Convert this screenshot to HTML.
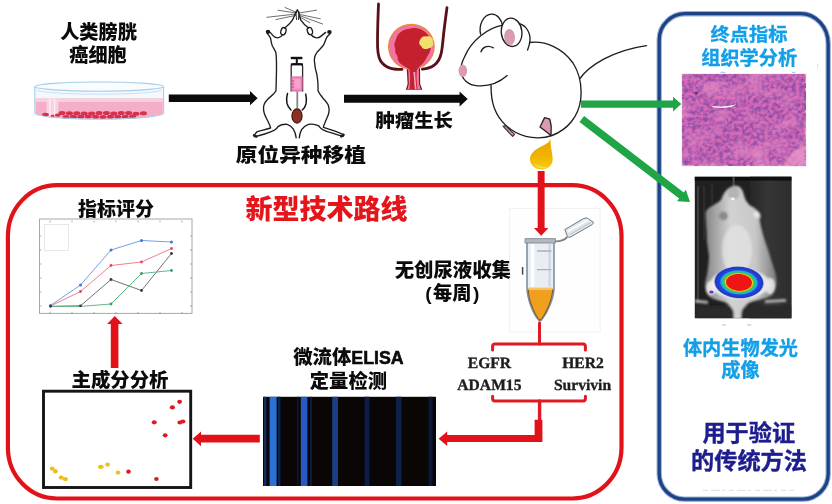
<!DOCTYPE html>
<html lang="zh-CN">
<head>
<meta charset="utf-8">
<title>膀胱癌原位异种移植模型技术路线</title>
<style>
  html, body { margin: 0; padding: 0; background: #ffffff; }
  body { width: 832px; height: 504px; overflow: hidden; position: relative; }
  svg { position: absolute; left: 0; top: 0; display: block; }
  text { font-family: "Liberation Sans", "Noto Sans CJK SC", sans-serif; font-weight: 900; }
  .k { fill: #0a0a0a; }
  .cy { fill: #129ee8; font-weight: 700; stroke: #129ee8; stroke-width: 0.35px; }
  .nv { fill: #1c1c8e; font-weight: 700; stroke: #1c1c8e; stroke-width: 0.4px; }
  .rd { fill: #e5141b; }
  .tm { font-family: "Liberation Serif", serif; font-weight: 700; fill: #1c1c1c; stroke: #1c1c1c; stroke-width: 0.35px; text-rendering: geometricPrecision; }
</style>
</head>
<body>
<svg width="832" height="504" viewBox="0 0 832 504">
  <defs>
    <filter id="soft" x="-5%" y="-5%" width="110%" height="110%"><feGaussianBlur stdDeviation="0.45"/></filter>
    <filter id="histo" x="0" y="0" width="100%" height="100%" color-interpolation-filters="sRGB">
      <feTurbulence type="fractalNoise" baseFrequency="0.26 0.28" numOctaves="2" seed="11" result="n"/>
      <feColorMatrix in="n" type="matrix" values="0 0 0 0 0  0 0 0 0 0  0 0 0 0 0  3.0 0 0 0 -1.08" result="a"/>
      <feFlood flood-color="#9050a8" result="c"/>
      <feComposite in="c" in2="a" operator="in" result="dark"/>
      <feTurbulence type="fractalNoise" baseFrequency="0.035 0.05" numOctaves="2" seed="5" result="n2"/>
      <feColorMatrix in="n2" type="matrix" values="0 0 0 0 0  0 0 0 0 0  0 0 0 0 0  0 2.2 0 0 -1.0" result="a2"/>
      <feFlood flood-color="#e88cc6" result="c2"/>
      <feComposite in="c2" in2="a2" operator="in" result="light"/>
      <feMerge><feMergeNode in="SourceGraphic"/><feMergeNode in="dark"/><feMergeNode in="light"/></feMerge>
    </filter>
    <radialGradient id="hot" cx="0.5" cy="0.5" r="0.5">
      <stop offset="0" stop-color="#f01414"/>
      <stop offset="0.50" stop-color="#f01414"/>
      <stop offset="0.545" stop-color="#f2c81e"/>
      <stop offset="0.60" stop-color="#3cc83c"/>
      <stop offset="0.66" stop-color="#28c0a0"/>
      <stop offset="0.72" stop-color="#20a8e0"/>
      <stop offset="0.78" stop-color="#2048d8"/>
      <stop offset="0.95" stop-color="#2038c8"/>
      <stop offset="1" stop-color="#2038c8" stop-opacity="0.4"/>
    </radialGradient>
    <linearGradient id="mousegrey" x1="0" y1="0" x2="1" y2="0">
      <stop offset="0" stop-color="#858585"/><stop offset="0.35" stop-color="#d2d2d2"/><stop offset="0.7" stop-color="#c8c8c8"/><stop offset="1" stop-color="#7a7a7a"/>
    </linearGradient>
    <linearGradient id="dropg" x1="0" y1="0" x2="0" y2="1"><stop offset="0" stop-color="#e9a400"/><stop offset="0.6" stop-color="#f0b400"/><stop offset="1" stop-color="#f7cf1c"/></linearGradient>
    <filter id="b1" x="-10%" y="-10%" width="120%" height="120%"><feGaussianBlur stdDeviation="1.2"/></filter>
    <filter id="b2" x="-10%" y="-10%" width="120%" height="120%"><feGaussianBlur stdDeviation="0.7"/></filter>
    <clipPath id="bliclip"><rect x="694.8" y="176.8" width="96.6" height="141.4"/></clipPath>
    <linearGradient id="bgR" x1="0" y1="0" x2="1" y2="0"><stop offset="0" stop-color="#262626"/><stop offset="0.4" stop-color="#363636"/><stop offset="1" stop-color="#2c2c2c"/></linearGradient>
    <clipPath id="elclip"><rect x="263" y="396.8" width="173" height="89.2"/></clipPath>

  </defs>
  <rect x="0" y="0" width="832" height="504" fill="#ffffff"/>

  <!-- ============ FRAMES ============ -->
  <g id="frames" fill="none">
    <rect x="7.9" y="185.2" width="613.6" height="313.3" rx="49" ry="51" stroke="#e2121a" stroke-width="4.2"/>
    <path d="M685.2 13.7 H800.6 A27.6 30 0 0 1 828.2 43.7 V473.8 A25.4 25.4 0 0 1 802.8 499.2 H684.6 A25.4 25.4 0 0 1 659.2 473.8 V39.7 A26 26 0 0 1 685.2 13.7 Z" stroke="#8ea4cc" stroke-width="5.4" opacity="0.85"/>
    <path d="M685.2 13.7 H800.6 A27.6 30 0 0 1 828.2 43.7 V473.8 A25.4 25.4 0 0 1 802.8 499.2 H684.6 A25.4 25.4 0 0 1 659.2 473.8 V39.7 A26 26 0 0 1 685.2 13.7 Z" stroke="#1b4386" stroke-width="3.3"/>
    <path d="M703 490.3 H794" stroke="#ccd5e6" stroke-width="0.8" stroke-dasharray="5 3 9 2 3 4"/>
  </g>


  <!-- ============ PETRI DISH ============ -->
  <g id="dish">
    <path d="M34.8 86.6 V113 A64.4 6.2 0 0 0 163.6 113 V86.6 Z" fill="#f4f8fc"/>
    <path d="M35.6 98.4 H162.8 V113 A63.6 6 0 0 1 35.6 113 Z" fill="#f4aec8"/>
    <path d="M35.6 98.4 H162.8 V102 H35.6 Z" fill="#f8cfde"/>
    <path d="M46.6 98.4 H58.4 V117.4 L46.6 115.6 Z" fill="#fad5e2" opacity="0.9"/>
    <path d="M50 98.4 V116 M54.6 98.4 V117" stroke="#fdeef4" stroke-width="1.2" fill="none"/>
    <g fill="#d6304c"><ellipse cx="62.0" cy="113.1" rx="3.5" ry="2.0"/><ellipse cx="69.4" cy="113.3" rx="3.5" ry="2.0"/><ellipse cx="76.8" cy="113.2" rx="3.5" ry="2.0"/><ellipse cx="84.2" cy="113.4" rx="3.5" ry="2.0"/><ellipse cx="91.6" cy="113.4" rx="3.5" ry="2.0"/><ellipse cx="99.0" cy="113.0" rx="3.5" ry="2.0"/><ellipse cx="106.4" cy="112.9" rx="3.5" ry="2.0"/><ellipse cx="113.8" cy="113.6" rx="3.5" ry="2.0"/><ellipse cx="121.2" cy="113.1" rx="3.5" ry="2.0"/><ellipse cx="128.6" cy="113.1" rx="3.5" ry="2.0"/><ellipse cx="136.0" cy="113.7" rx="3.5" ry="2.0"/><ellipse cx="143.4" cy="113.3" rx="3.5" ry="2.0"/><ellipse cx="66.0" cy="116.9" rx="3.5" ry="2.0"/><ellipse cx="73.4" cy="116.7" rx="3.5" ry="2.0"/><ellipse cx="80.8" cy="116.8" rx="3.5" ry="2.0"/><ellipse cx="88.2" cy="116.5" rx="3.5" ry="2.0"/><ellipse cx="95.6" cy="116.8" rx="3.5" ry="2.0"/><ellipse cx="103.0" cy="116.9" rx="3.5" ry="2.0"/><ellipse cx="110.4" cy="116.7" rx="3.5" ry="2.0"/><ellipse cx="117.8" cy="116.8" rx="3.5" ry="2.0"/><ellipse cx="125.2" cy="116.8" rx="3.5" ry="2.0"/><ellipse cx="132.6" cy="116.4" rx="3.5" ry="2.0"/><ellipse cx="45.5" cy="114.6" rx="3.4" ry="1.9"/><ellipse cx="52.6" cy="116.0" rx="2" ry="1.2"/><ellipse cx="57.6" cy="115.2" rx="2.8" ry="1.6"/></g>
    <g fill="none" stroke="#a6cde8" stroke-width="1.1">
      <ellipse cx="99.2" cy="86.6" rx="64.4" ry="4.6" fill="#f9fcfe"/>
      <path d="M34.8 86.6 V113 A64.4 6.2 0 0 0 163.6 113 V86.6"/>
      <path d="M36.4 89.6 A62.8 4.6 0 0 0 162 89.6" stroke="#c4dff2" stroke-width="0.9"/>
    </g>
  </g>

  <!-- ============ SUPINE MOUSE WITH SYRINGE ============ -->
  <g id="supine" fill="none" stroke="#1e1e1e" stroke-width="1.35" stroke-linecap="round" stroke-linejoin="round">
    <g stroke="#5e5e5e" stroke-width="0.9">
      <path d="M296 14 L266.8 17.3"/><path d="M296 13 L278 10.2"/><path d="M295.6 15.4 L275.9 19.6"/><path d="M296.4 12.4 L285 7.5"/>
      <path d="M299 13 L316.6 10.2"/><path d="M299.4 14.4 L320.3 18.8"/><path d="M299.6 15.6 L322.6 24"/><path d="M299 16.6 L309.8 22.6"/>
    </g>
    <!-- snout / head -->
    <path d="M297.4 10 C295.6 12.4 294.4 16.6 292.4 20.2 C290 24 286.8 26.2 284.6 28"/>
    <path d="M297.4 10 C299.2 12.4 299.4 16.6 300.8 20.2 C303.4 24 306.4 26.4 308.6 28"/>
    <path d="M295.8 12 L296.6 19.6 M299 12 L298.4 19.6" stroke-width="0.9"/>
    <ellipse cx="283.4" cy="31.2" rx="2.5" ry="3.7" transform="rotate(18 283.4 31.2)"/>
    <ellipse cx="309.9" cy="31" rx="2.5" ry="3.7" transform="rotate(-18 309.9 31)"/>
    <!-- inner arm lines -->
    <path d="M282.4 35.2 C280.4 37.8 276.6 38.8 274 36.6 L270.4 32.6"/>
    <path d="M311.4 35 C313.6 37.8 317.6 38.8 320.4 36.6 L325.6 32.4"/>
    <!-- left outline -->
    <path d="M267.2 33.4 C268.6 35 270 36.6 270.6 38.4 C271.2 41.4 271.4 43.6 272.4 46 C273.8 48.6 275.4 50.6 275.9 52.8 C276.6 58 276.6 66 276.4 75 C276.2 81 276.2 87 275.9 91 C274.6 93.4 272.6 95 270.6 96.6 C267.4 99.2 264.6 102 263.8 105.6 C263.2 108.6 263.6 111.4 264.4 113.8 C265.4 116.8 267 119.6 268.4 122.2 C269.4 124.2 270.2 126 270.6 128 C266 129.6 261 130.6 257 131.8 L254 135.2"/>
    <!-- right outline -->
    <path d="M330.4 33.6 C328.8 35 327.2 36.4 326.4 38 C325.4 40.8 324.6 43 323.4 45.2 C321.4 48.2 318.2 50.4 316.6 52.8 C314.8 55.2 314.2 57.6 314.3 60 C314.6 65 315.4 70 317 75 C318 81 318.2 87 318.1 91 C319.6 94 321.6 96.6 323.4 98.8 C325.8 101.2 327.8 103.4 328.6 106.2 C329.4 108.8 329.4 111.4 328.6 113.8 C327.6 117 326 120 324.9 122.8 C324.2 124.4 323.6 125.8 323.4 127.4 C328 129 332.6 130.4 336.9 131.8 L343.6 134.6"/>
    <!-- under-legs and tail stub -->
    <path d="M254.4 136.6 C258 136 261.6 135 264.6 134 C268.4 132.8 271.6 131.6 274.4 130.2 C276 129.2 277.2 128 278 126.6 C281 124.6 284.4 124 287.2 124.4 C290 125.4 292 127 293.2 128.8 C295 131.6 295.8 134.6 296.2 137.8"/>
    <path d="M343.2 136.4 C339.6 135.6 335.6 134.4 332.4 133.2 C328.6 132.2 325.4 131 322.6 129.6 C321 128.6 319.6 127.2 318.8 125.8 C315.6 124.2 311.6 123.8 308.4 124.4 C305.4 125.6 303 127.4 301.6 129.6 C300.2 132 299.6 134.8 299.2 137.8"/>
    <ellipse cx="268" cy="31.8" rx="2.3" ry="2.1" fill="#1a1a1a" stroke="none"/>
    <ellipse cx="329.4" cy="32" rx="2.3" ry="2.1" fill="#1a1a1a" stroke="none"/>
    <path d="M254 135.4 L256.4 136.6" stroke-width="2.4"/><path d="M343.6 134.8 L341.2 136.4" stroke-width="2.4"/>
    <!-- syringe -->
    <path d="M290.8 58 H302.4" stroke="#111" stroke-width="2.4" stroke-linecap="butt"/>
    <path d="M296.8 58 V63.4" stroke="#111" stroke-width="2" stroke-linecap="butt"/>
    <path d="M291.2 91 V66.4 Q291.2 63.6 294 63.6 H299.6 Q302.6 63.6 302.6 66.4 V91" fill="#fff" stroke="#2a2a2a" stroke-width="1.3"/>
    <path d="M290.8 64.4 H303" stroke="#111" stroke-width="2" stroke-linecap="butt"/>
    <path d="M291.4 76.8 H302.4 V89.4 Q302.4 91.2 300.4 91.2 H293.4 Q291.4 91.2 291.4 89.4 Z" fill="#f283b8" stroke="#c85a96" stroke-width="0.6"/>
    <path d="M293.4 78.6 H300.6 V88.6 H293.4 Z" fill="#f7a3cc" stroke="none"/>
    <path d="M291.6 81 H294 M291.6 84 H294 M291.6 87 H294" stroke="#a03a74" stroke-width="0.7"/>
    <path d="M297.3 91.4 V108.6" stroke="#868686" stroke-width="1.8" stroke-linecap="butt"/>
    <path d="M287.5 93.4 C286.4 96.8 286.4 100.4 286.9 103.2 C287.6 106.2 289.2 108.4 291 110" stroke="#111" stroke-width="1.5"/>
    <path d="M305.7 94.1 C306.6 97.4 306.6 100.8 306 103.9 C305.4 106.6 304 108.6 302.3 110" stroke="#111" stroke-width="1.5"/>
    <ellipse cx="297" cy="116" rx="5.1" ry="7.1" fill="#8b3122" stroke="#3c130a" stroke-width="1.1"/>
  </g>

  <!-- ============ BLADDER WITH TUMOUR ============ -->
  <g id="bladder">
    <g fill="none" stroke="#5a1018" stroke-width="2.8" stroke-linecap="round" stroke-linejoin="round">
      <path d="M378.5 4 C378 18 377.2 34 377.6 47.6 C378 56 379.6 60.6 382.4 63.2 C385.4 66.4 388.6 68 392 68.6 C395.4 69.4 398.6 69.6 402 69.4"/>
      <path d="M447 7.6 C445.6 18 444.2 28 443.2 38 C442.6 44 442.2 49 441.2 53.4 C440 58.6 437.8 62.4 434.6 64.8 C431.4 67.4 427.4 68.6 422.4 69.2"/>
    </g>
    <path d="M406.6 66 L407.6 84 L405.8 89.8 H422.4 L420.2 84 L420 66 Z" fill="#7c1722"/>
    <ellipse cx="411.4" cy="46.8" rx="23.4" ry="23" fill="#e98838"/>
    <ellipse cx="411.4" cy="46.8" rx="22.2" ry="21.8" fill="#f274a6"/>
    <path d="M408 64 L408.8 84 L407.4 89.2 H420.8 L419 84 L418.8 64 Z" fill="#f274a6"/>
    <path d="M411 28.4 C416 26.8 424 29.4 428 35 C431 39.4 431.6 45.6 430.4 50 C429.4 54 427 56.2 425.6 59.4 C424 63.6 419.4 65.6 417 69.6 C416 75 416.6 83 417.6 89.2 H409.6 C410.2 83 410.6 75 409.4 69.6 C406.4 66.4 400.6 65.4 398.4 61 C397 58.6 398.4 56.6 396.4 54.4 C394.4 52 396 49.4 394.6 46.8 C393.6 43.6 395.6 41 396.2 38.4 C397.4 34.4 400.4 31.6 404 30 C406.4 29 408.6 28.6 411 28.4 Z" fill="#c4202e"/>
    <path d="M413.4 72 C414 78 414.2 84 415 89.2 H416.6 C415.8 84 415.4 78 415.2 72 Z" fill="#f5a9c2"/>
    <g filter="url(#b2)"><path d="M419.6 41 C420.4 37.6 423.6 35.4 427 36.4 C430.6 35.6 433.6 38.6 432.8 41.8 C434.2 44.8 432 48.4 428.6 48.2 C426 50 422 49 421.2 46 C419.2 44.8 418.6 42.4 419.6 41 Z" fill="#f0e06c"/></g>
  </g>

  <!-- ============ SIDE-VIEW MOUSE ============ -->
  <g id="mouse" fill="none" stroke="#1e1e1e" stroke-width="1.35" stroke-linecap="round" stroke-linejoin="round">
    <!-- body -->
    <path d="M529.5 42.5 C546 40.5 563 48.5 573 63 C580 74 582 88 580.6 100 C578.5 116 568 129.5 552 135.5 C540 140 523 138 511 129.5 C499 121 492.2 108 491.3 93 L491 85.3" fill="#fff"/>
    <!-- tail -->
    <path d="M580 78.5 C589 66 612 50.5 646.5 45.6"/>
    <!-- back ear -->
    <path d="M480.6 34 C478.5 25 483 15.5 491 14.2 C497.5 13.6 501.5 19.5 502.6 26" fill="#fff"/>
    <!-- head -->
    <path d="M502.6 25.2 C488 28 471.5 40 464.5 57 C462 62 460.6 66.5 460.8 70.5 C461.5 79 468 85.5 478 85.8 C489.5 86.5 500 82 507.2 75.6" fill="#fff"/>
    <!-- head fold behind ear -->
    <path d="M519.5 23.6 C526 25.5 530.5 32.5 530 40.5 C529.6 44.5 528.6 47.5 527.6 50"/>
    <!-- front ear -->
    <ellipse cx="511.6" cy="32.3" rx="10.3" ry="14.2" fill="#fff" transform="rotate(-6 511.6 32.3)"/>
    <ellipse cx="509.6" cy="37" rx="5.4" ry="8" fill="#d99bb0" stroke="none" transform="rotate(-4 509.6 37)"/>
    <ellipse cx="462.8" cy="70.8" rx="4.3" ry="6.2" fill="#d99bb0" stroke="none"/>
    <!-- eye -->
    <path d="M481 51.8 C482.4 46.8 487.6 44.8 493.4 47.8"/>
    <!-- feet -->
    <path d="M503 126.2 L505.5 125.6 L514.6 134.4 L512.6 136.4 Z" fill="#d99bb0" stroke="#3a2a30" stroke-width="1.1"/>
    <path d="M544.6 117.6 L549.8 119.2 L551.2 126 L551 135.6 L546 131.6 L540 127 Z" fill="#d99bb0" stroke="#2a1e22" stroke-width="1.3"/>
  </g>

  <!-- ============ URINE DROP ============ -->
  <g id="drop">
    <path d="M550.6 138.4 C549.4 146 531 147 530 158.5 C529.7 165.5 535.3 169.4 541.4 169.4 C547.8 169.4 553 165.5 552.7 158.5 C552.3 151.5 550.2 146.5 550.6 138.4 Z" fill="url(#dropg)"/>
    <path d="M533.4 163.2 C536 167.4 541 168.8 546.6 167.4 C542.4 166.6 537 166.2 533.4 163.2 Z" fill="#fbe04e"/>
  </g>


  <!-- ============ HISTOLOGY IMAGE ============ -->
  <g id="histology">
    <rect x="681" y="73" width="125.5" height="93.6" fill="#f4eef5"/>
    <rect x="682.2" y="74" width="123.3" height="91.6" fill="#d66ab6" filter="url(#histo)"/>
    <path d="M784 165.6 C788 156 796 148 805.5 146 V165.6 Z" fill="#ec98c8" opacity="0.75" filter="url(#b1)"/>
    <path d="M712.4 106 L722 106.6 L731 105.6 L736.6 104 L731.6 107 L722 108 L712.6 107.2 Z" fill="#f8f0f8"/>
    <circle cx="696.4" cy="93" r="1.6" fill="#4a2a5a" opacity="0.8"/>
  </g>

  <!-- ============ BIOLUMINESCENCE IMAGE ============ -->
  <g id="bli">
    <rect x="694.8" y="176.8" width="96.6" height="141.4" fill="#202020"/>
    <g clip-path="url(#bliclip)">
      <rect x="750" y="176" width="43" height="143" fill="url(#bgR)"/>
      <rect x="694" y="176" width="99" height="4.6" fill="#0a0a0a" opacity="0.85"/>
      <path d="M698 186 V300" stroke="#474747" stroke-width="1.6" fill="none"/>
      <path d="M704 186 V240 M712 184 V204" stroke="#2c2c2c" stroke-width="2.4" fill="none"/>
      <path d="M733.6 177 V188" stroke="#4e4e4e" stroke-width="2" fill="none"/>
      <g filter="url(#b1)">
        <path d="M695 301 L708 302.4 M765 301.6 L786 300.4" stroke="#b4b4b4" stroke-width="2.8"/>
        <path d="M696 306 H792 V319 H696 Z" fill="#2a2a2a"/>
        <path d="M734 186 C738.6 185 742.4 188.6 743.6 194 C744.6 198.6 746.4 202 750 205.4 C754 207.4 757.4 209.6 758.6 212.6 C761 213.6 761.6 217 759.6 219.4 C760.4 224 761.4 228.6 762.6 233 C764.6 241 768 248.6 770 256 C772 264 775 270 776 276 C777.4 282 776.6 290 772 295 C766 299 757 300 751 302 C746 304.6 742.4 308 741.4 312 L741 319 H733.8 L733.6 312 C733 308 729 304.6 724.8 302 C718 300 711 299 707.6 295 C704.4 290 704.6 282 707 275 C708 268 709 262 709 256 C708 248 706.4 241 706.8 234 C706.4 226 705.4 218 705.6 212 C708.6 206.4 717 204 721 200 C723 194.6 726.4 187.4 734 186 Z" fill="url(#mousegrey)"/>
        <ellipse cx="733.6" cy="193" rx="6" ry="6.4" fill="#b4b4b4"/>
        <ellipse cx="723.4" cy="216" rx="4.6" ry="4.4" fill="#8a8a8a"/>
        <ellipse cx="756.6" cy="214.6" rx="3" ry="3.4" fill="#e6e6e6"/>
        <ellipse cx="737" cy="250" rx="15" ry="25" fill="#e6e6e6" opacity="0.7"/>
        <ellipse cx="740" cy="284" rx="30" ry="15" fill="#f0f0f0" opacity="0.85"/>
        <ellipse cx="711" cy="288" rx="5" ry="7" fill="#ececec" opacity="0.9"/>
        <ellipse cx="770" cy="286" rx="5" ry="8" fill="#e8e8e8" opacity="0.9"/>
      </g>
      <ellipse cx="732.8" cy="198.8" rx="2.2" ry="1.4" fill="#f4f4f4"/>
      <ellipse cx="711.4" cy="292" rx="2.2" ry="1.6" fill="#5a3ac0"/>
      <ellipse cx="739" cy="282.4" rx="24.8" ry="16" fill="url(#hot)" transform="rotate(3 739 282.4)"/>
    </g>
  </g>

  <!-- ============ ELISA STRIP ============ -->
  <g id="elisa">
    <rect x="263" y="396.8" width="173" height="89.2" fill="#0a0606"/>
    <g clip-path="url(#elclip)" filter="url(#b2)">
      <rect x="264" y="396" width="2.4" height="91" fill="#122a5c"/>
      <rect x="269.6" y="396" width="7" height="91" fill="#2c71d6"/>
      <rect x="278" y="396" width="2.4" height="91" fill="#0e2250"/>
      <rect x="297" y="396" width="1.6" height="91" fill="#0a1838"/>
      <rect x="300.8" y="396" width="6.6" height="91" fill="#255ac2"/>
      <rect x="310" y="396" width="1.8" height="91" fill="#0c1c44"/>
      <rect x="332.2" y="396" width="5.8" height="91" fill="#1a3c84"/>
      <rect x="364.6" y="396" width="4.8" height="91" fill="#0f1f48"/>
      <rect x="396" y="396" width="5.4" height="91" fill="#10214a"/>
      <rect x="428.6" y="396" width="4.2" height="91" fill="#0a1430"/>
    </g>
  </g>

  <!-- ============ LINE CHART ============ -->
  <g id="chart">
    <rect x="39.5" y="219" width="152.5" height="94.4" fill="#fff" stroke="#a8a8a8" stroke-width="1"/>
    <rect x="44.5" y="224.5" width="24" height="26" fill="none" stroke="#e2e2e2" stroke-width="0.8"/>
    <g stroke="#8a8a8a" stroke-width="0.7" fill="none">
      <path d="M50 314v-2 M72 314v-2 M94 314v-2 M116 314v-2 M138 314v-2 M160 314v-2 M182 314v-2"/>
      <path d="M50 220.5v2 M72 220.5v2 M94 220.5v2 M116 220.5v2 M138 220.5v2 M160 220.5v2 M182 220.5v2"/>
      <path d="M39.5 306h2 M39.5 292h2 M39.5 278h2 M39.5 264h2 M39.5 250h2 M39.5 236h2"/>
      <path d="M192 306h-2 M192 292h-2 M192 278h-2 M192 264h-2 M192 250h-2 M192 236h-2"/>
    </g>
    <g fill="none" stroke-width="1" stroke-linejoin="round" opacity="0.85">
      <path d="M50.5 305.5 L80.5 285 L111 250 L141.5 240.5 L171.5 242" stroke="#5b8fe0"/>
      <path d="M50.5 306 L80.5 291.5 L111 265.5 L141.5 262 L171.5 248.5" stroke="#e86a78"/>
      <path d="M50.5 306.3 L80.5 305.8 L111 279.5 L141.5 290.5 L171.5 253.5" stroke="#5a5a5a"/>
      <path d="M50.5 306.6 L80.5 306.4 L111 304 L141.5 273.5 L171.5 270.5" stroke="#4aa878"/>
    </g>
    <g stroke="none">
      <g fill="#3f78d8"><circle cx="50.5" cy="305.5" r="1.5"/><circle cx="80.5" cy="285" r="1.5"/><circle cx="111" cy="250" r="1.5"/><circle cx="141.5" cy="240.5" r="1.5"/><circle cx="171.5" cy="242" r="1.5"/></g>
      <g fill="#e04a5c"><circle cx="80.5" cy="291.5" r="1.4"/><circle cx="111" cy="265.5" r="1.4"/><circle cx="141.5" cy="262" r="1.4"/><circle cx="171.5" cy="248.5" r="1.4"/></g>
      <g fill="#3a3a3a"><circle cx="50.5" cy="306.3" r="1.4"/><circle cx="80.5" cy="305.8" r="1.4"/><circle cx="111" cy="279.5" r="1.4"/><circle cx="141.5" cy="290.5" r="1.4"/><circle cx="171.5" cy="253.5" r="1.4"/></g>
      <g fill="#3a9a68"><circle cx="111" cy="304" r="1.4"/><circle cx="141.5" cy="273.5" r="1.4"/><circle cx="171.5" cy="270.5" r="1.4"/></g>
    </g>
  </g>

  <!-- ============ PCA SCATTER ============ -->
  <g id="scatter">
    <rect x="43.5" y="391.2" width="147.2" height="96.3" fill="#fff" stroke="#151515" stroke-width="2.9"/>
    <g fill="#e01822">
      <ellipse cx="179.6" cy="401.8" rx="2.4" ry="2.1"/><ellipse cx="172.4" cy="407.4" rx="2.6" ry="2.1"/><ellipse cx="154.2" cy="422.3" rx="2.5" ry="2.1"/>
      <ellipse cx="182.8" cy="421.6" rx="2.6" ry="2"/><ellipse cx="179.8" cy="422.6" rx="2.4" ry="2"/><ellipse cx="165.2" cy="435.3" rx="2.4" ry="2.1"/>
      <ellipse cx="128.5" cy="471.7" rx="2.3" ry="2.1"/><ellipse cx="156.4" cy="479" rx="2.3" ry="2.1"/>
    </g>
    <g fill="#eebf1a">
      <ellipse cx="52.2" cy="468.6" rx="2.4" ry="2.2"/><ellipse cx="55.4" cy="471.2" rx="2.4" ry="2.2"/><ellipse cx="61.2" cy="477.6" rx="2.5" ry="2.1"/>
      <ellipse cx="65.4" cy="479.2" rx="2.5" ry="2.1"/><ellipse cx="100.8" cy="466.8" rx="2.8" ry="2.1"/><ellipse cx="107.6" cy="464.6" rx="2.4" ry="2.1"/>
      <ellipse cx="118" cy="472.6" rx="2.3" ry="2.1"/>
    </g>
  </g>

  <!-- ============ COLLECTION TUBE ============ -->
  <g id="tube">
    <rect x="509.5" y="208.5" width="90.6" height="123.5" fill="#fefefe" stroke="#f2f2f2" stroke-width="1"/>
    <path d="M527 242 V288.6 C527.6 300 533.4 313.6 538.2 319.6 Q540 322.2 541.8 319.6 C546.6 313.6 553.4 300 554 288.6 V242 Z" fill="#e9eef4" stroke="#7f8ea6" stroke-width="1.6"/>
    <path d="M528.2 289.2 H552.8 C552.2 300 546 312.8 541.6 318.8 Q540 321.2 538.4 318.8 C534 312.8 528.6 300 528.2 289.2 Z" fill="#f0a01e" stroke="#6a4a22" stroke-width="0.9"/>
    <path d="M528.4 287.6 H552.6 V290 H528.4 Z" fill="#f6c26a"/>
    <path d="M532.6 244 V286.6" stroke="#ffffff" stroke-width="3.4" opacity="0.95"/>
    <path d="M549.6 244 V286.6" stroke="#cfd8e4" stroke-width="2.4"/>
    <path d="M537 251 H551.4 M537 269.6 H551.4" stroke="#a9b0ba" stroke-width="1.3"/>
    <path d="M525 238.6 H555.4 V243 H525 Z" fill="#b4b8be" stroke="#7c8088" stroke-width="0.8"/>
    <path d="M555.4 241.4 C560 241.4 564.6 240.4 567.4 236.6" fill="none" stroke="#7c828a" stroke-width="1.8"/>
    <path d="M564.8 229.6 L583.4 218.6 L586.8 217.8 L593.6 222.4 L592.4 224.4 L570.2 237.2 Q568.2 237.6 567.4 236 Z" fill="#e2e7ed" stroke="#70777f" stroke-width="1"/>
    <path d="M568 231.2 L588.4 219.8" stroke="#ffffff" stroke-width="1.8" fill="none"/>
    <path d="M569.6 234.6 L590.6 222.6" stroke="#b9c2cc" stroke-width="1" fill="none"/>
    <path d="M522.6 267 V274.6" stroke="#4a4a4a" stroke-width="1.5"/>
  </g>


  <!-- faint residual marks -->
  <g fill="#3a94e4" opacity="0.5">
    <rect x="720.4" y="71.8" width="5" height="1.1"/><rect x="792" y="71.8" width="3.4" height="1.1"/>
    <rect x="722" y="324.4" width="3.6" height="1.1"/><rect x="747.2" y="324.4" width="4" height="1.1"/>
    <rect x="817.2" y="63.6" width="0.9" height="5" opacity="0.6"/>
  </g>

  <!-- ============ ARROWS ============ -->
  <g id="arrows">
    <!-- black arrows -->
    <path d="M168.8 94.4 H250 V91.1 L257.6 98.2 L250 105.2 V101.9 H168.8 Z" fill="#0a0a0a"/>
    <path d="M344 94.7 H459.6 V91.4 L467.7 99 L459.6 106.6 V102.8 H344 Z" fill="#0a0a0a"/>
    <!-- green arrows -->
    <path d="M581 100.4 H673 V96.8 L681.2 104 L673 111.4 V107.8 H581 Z" fill="#1fa446"/>
    <path d="M0 -3.8 H125.6 V-7.2 L136.4 0 L125.6 7.2 V3.8 H0 Z" fill="#1fa446" transform="translate(581.8 119) rotate(37.5)"/>
    <!-- red arrow down from urine drop -->
    <path d="M537.7 171 H544.6 V228 H548.4 L541.2 235.8 L534 228 H537.7 Z" fill="#e2121a"/>
    <!-- red arrow up to chart -->
    <path d="M110.8 368 H118.4 V324 H122.5 L114.8 316 L107.1 324 H110.8 Z" fill="#e2121a"/>
    <!-- red arrow left to scatter -->
    <path d="M259.8 434.8 V442.4 H201 V446.3 L192.7 438.7 L201 431.4 V434.8 Z" fill="#e2121a"/>
    <!-- red elbow arrow to ELISA -->
    <path d="M534.6 419.8 H542.4 V442 H447.2 V446 L438.6 438.7 L447.2 431.4 V435 H534.6 Z" fill="#e2121a"/>
    <!-- brackets -->
    <g stroke="#de1a22" stroke-width="3" fill="none" stroke-linejoin="round" stroke-linecap="round">
      <path d="M539.5 323 V344"/>
      <path d="M492.6 350 V346.4 Q492.6 344 495 344 H583 Q585.4 344 585.4 346.4 V350"/>
      <path d="M492.6 396.2 V398.8 Q492.6 401 495 401 H583 Q585.4 401 585.4 398.8 V396.2"/>
      <path d="M539.6 401 V420" stroke-width="3.4"/>
    </g>
  </g>

  <!-- ============ TEXT ============ -->
  <g id="labels" text-anchor="middle" opacity="0.995">
    <text class="k" x="98.5" y="39" font-size="19.2">人类膀胱</text>
    <text class="k" x="98" y="62" font-size="19.2">癌细胞</text>
    <text class="k" x="0" y="0" font-size="19.4" transform="translate(300.8 161.8) scale(1.118 1)">原位异种移植</text>
    <text class="k" x="0" y="0" font-size="19.4" transform="translate(414.2 127) scale(1 0.955)">肿瘤生长</text>
    <text class="rd" x="326.5" y="218.5" font-size="27">新型技术路线</text>
    <text class="k" x="116" y="215.6" font-size="19">指标评分</text>
    <text class="k" x="120" y="386.6" font-size="19.4">主成分分析</text>
    <text class="k" x="348.4" y="364.3" font-size="19.4">微流体<tspan font-size="17.8" stroke="#0a0a0a" stroke-width="0.55">ELISA</tspan></text>
    <text class="k" x="348.4" y="387.6" font-size="19.3">定量检测</text>
    <text class="k" x="452.8" y="276.8" font-size="19.4">无创尿液收集</text>
    <text class="k" x="452.3" y="299.6" font-size="19.2">(<tspan dx="1.4">每周</tspan><tspan dx="1.4">)</tspan></text>
    <text class="cy" x="0" y="0" font-size="19.2" transform="translate(749 40.8) scale(1 0.95)">终点指标</text>
    <text class="cy" x="749.2" y="64.5" font-size="19.2">组织学分析</text>
    <text class="cy" x="740.5" y="355" font-size="19.2">体内生物发光</text>
    <text class="cy" x="740.5" y="377.4" font-size="19.2">成像</text>
    <text class="nv" x="748.8" y="441" font-size="23.2">用于验证</text>
    <text class="nv" x="749" y="468.6" font-size="23.2">的传统方法</text>
    <text class="tm" x="489.4" y="367.7" font-size="15.6">EGFR</text>
    <text class="tm" x="489.4" y="389.7" font-size="15.6">ADAM15</text>
    <text class="tm" x="583" y="367.7" font-size="15.6">HER2</text>
    <text class="tm" x="582.5" y="389.7" font-size="15.6">Survivin</text>
  </g>
</svg>
</body>
</html>
